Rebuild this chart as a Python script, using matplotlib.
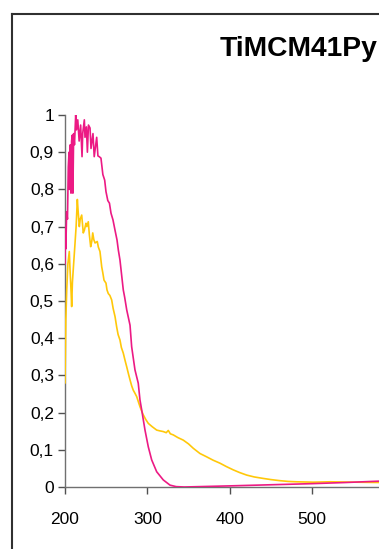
import matplotlib
matplotlib.use("Agg")
import matplotlib.pyplot as plt
from matplotlib.lines import Line2D

plt.rcParams['font.family'] = ['Liberation Sans', 'DejaVu Sans']

title = "TiMCM41Py"

# wavelength (nm) and normalised absorbance, pink series
pink_x = [200, 200.5, 201, 202, 203, 204, 204.9, 205.5, 206.5, 207.3, 208, 208.9,
          209.6, 210.5, 211.5, 213, 214, 215.5, 217.2, 219, 220.7, 221.5, 223.5,
          224.3, 226, 227.2, 228.5, 230.4, 231.6, 234, 235.5, 238.5, 240, 241.6,
          243.7, 246, 248.2, 249.8, 252, 254, 255.9, 258.3, 260.8, 263.2, 264.8,
          266.8, 269.5, 270.8, 272.5, 275, 279, 281, 285, 289, 291.1, 293.2,
          297.2, 301.2, 305.3, 311.4, 319.4, 327.6, 335, 345, 400, 450, 500,
          540, 585]
pink_y = [0.60, 0.70, 0.64, 0.74, 0.72, 0.86, 0.90, 0.80, 0.92, 0.79, 0.93, 0.946,
          0.79, 0.95, 0.92, 1.0, 0.96, 0.987, 0.93, 0.973, 0.888, 0.95, 0.987,
          0.94, 0.968, 0.90, 0.973, 0.965, 0.91, 0.95, 0.888, 0.94, 0.89, 0.888,
          0.884, 0.84, 0.825, 0.794, 0.77, 0.763, 0.736, 0.718, 0.69, 0.664, 0.637,
          0.61, 0.556, 0.53, 0.51, 0.476, 0.435, 0.377, 0.315, 0.279, 0.234, 0.207,
          0.153, 0.108, 0.073, 0.041, 0.019, 0.005, 0.001, 0.0, 0.003, 0.006, 0.009,
          0.012, 0.016]

# yellow series
yellow_x = [200, 201, 202.1, 203.5, 205.2, 206.2, 207.3, 208.1, 209, 210.5, 212.2,
            213.5, 215, 216, 217.4, 218.5, 220.3, 222.2, 223.5, 225.5, 226.5, 228.3,
            229.5, 231.2, 232.5, 233.7, 235, 236.5, 239.2, 240.5, 242.5, 244.6, 246,
            247.4, 249.8, 251, 252.6, 254.5, 256.7, 258.5, 260.8, 262.8, 264.5,
            266.8, 268.5, 270.8, 273, 275, 277, 279, 281, 283, 285, 287.1, 289,
            291.1, 293, 295.1, 298, 301.2, 306, 311.4, 315, 319.4, 323, 325.5, 328,
            331.6, 337, 343.7, 350, 355.9, 364, 372.2, 380, 388.3, 396, 404.5, 412,
            420.8, 430, 441, 450, 461.2, 471, 481.5, 501.7, 522, 550, 585]
yellow_y = [0.28, 0.45, 0.53, 0.60, 0.633, 0.58, 0.53, 0.485, 0.55, 0.60, 0.656,
            0.70, 0.773, 0.74, 0.70, 0.72, 0.731, 0.683, 0.69, 0.709, 0.70, 0.713,
            0.68, 0.646, 0.66, 0.683, 0.665, 0.656, 0.66, 0.645, 0.633, 0.592, 0.575,
            0.556, 0.548, 0.53, 0.52, 0.515, 0.503, 0.48, 0.458, 0.43, 0.41,
            0.395, 0.375, 0.36, 0.34, 0.323, 0.305, 0.288, 0.272, 0.26, 0.252, 0.243, 0.23,
            0.216, 0.205, 0.194, 0.182, 0.171, 0.162, 0.153, 0.151, 0.149, 0.146, 0.152, 0.143,
            0.14, 0.133, 0.126, 0.116, 0.104, 0.09, 0.081, 0.072, 0.064, 0.055, 0.046, 0.039,
            0.032, 0.027, 0.023, 0.02, 0.017, 0.015, 0.014, 0.013, 0.014, 0.013, 0.012]

x_ticks = [200, 300, 400, 500]
y_ticks = [0, 0.1, 0.2, 0.3, 0.4, 0.5, 0.6, 0.7, 0.8, 0.9, 1.0]
y_tick_labels = ["0", "0,1", "0,2", "0,3", "0,4", "0,5", "0,6", "0,7", "0,8", "0,9", "1"]

W, H = 379, 549
fig = plt.figure(figsize=(W / 100, H / 100), dpi=100)

# plot area is wider than the canvas; the right part falls outside
px_per_unit = 0.823
ax_w = (800 - 200) * px_per_unit
ax = fig.add_axes([65 / W, 62 / H, ax_w / W, 372 / H])

ax.plot(yellow_x, yellow_y, color="#FFC80A", lw=1.2, zorder=3)
ax.plot(pink_x, pink_y, color="#EC1A84", lw=1.2, zorder=4)

ax.set_xlim(200, 800)
ax.set_ylim(0, 1)
ax.set_xticks(x_ticks)
ax.set_yticks(y_ticks)
ax.set_yticklabels(y_tick_labels)

for s in ["top", "right"]:
    ax.spines[s].set_visible(False)
for s in ["left", "bottom"]:
    ax.spines[s].set_color("#707070")
    ax.spines[s].set_linewidth(1.0)

ax.tick_params(axis="y", direction="out", length=5, width=1, color="#505050",
               labelsize=12.5, pad=3)
ax.tick_params(axis="x", direction="out", length=5, width=1, color="#505050",
               labelsize=12.5, pad=13)

fig.text(220 / W, 1 - 56.5 / H, title, fontsize=20.3, fontweight="bold",
         ha="left", va="baseline")

# chart frame (left and top edges inside the canvas)
frame_kw = dict(color="#303030", lw=1.5, transform=fig.transFigure)
fig.add_artist(Line2D([12 / W, 12 / W], [0, 1 - 14 / H], **frame_kw))
fig.add_artist(Line2D([12 / W, 1.01], [1 - 14 / H, 1 - 14 / H], **frame_kw))

fig.savefig("out.png", dpi=100)
